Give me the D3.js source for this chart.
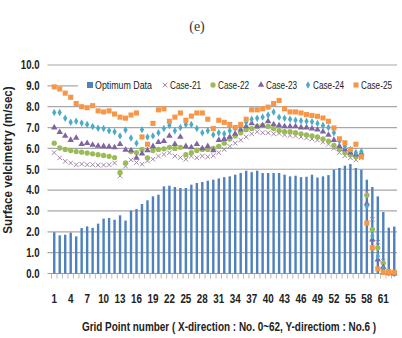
<!DOCTYPE html>
<html>
<head>
<meta charset="utf-8">
<script src="https://cdn.jsdelivr.net/npm/d3@7"></script>
<style>
  body { margin: 0; background: #fff; }
  svg text { font-family: "Liberation Sans", Arial, sans-serif; }
</style>
</head>
<body>
<div id="chart"></div>
<script>
var svgWidth = 402;
var svgHeight = 338;

// grid points 1..63
var gridPoints = d3.range(1, 64);
var xTickLabels = d3.range(1, 62, 3);
var yTicks = d3.range(0, 11, 1);

var optimumData = [1.98, 1.83, 1.86, 1.96, 1.78, 2.18, 2.26, 2.19, 2.39, 2.63, 2.66, 2.58, 2.79, 2.54, 3.02,
  3.09, 3.33, 3.51, 3.70, 3.78, 4.18, 4.21, 4.15, 4.10, 4.10, 4.26, 4.34, 4.39, 4.45, 4.50,
  4.56, 4.62, 4.66, 4.74, 4.82, 4.93, 4.86, 4.93, 4.82, 4.82, 4.82, 4.82, 4.74, 4.66, 4.69,
  4.62, 4.64, 4.74, 4.60, 4.66, 4.72, 4.98, 5.06, 5.17, 5.25, 5.06, 4.98, 4.50, 4.15, 3.70,
  2.95, 2.20, 2.25];

var case21 = [5.80, 5.55, 5.38, 5.30, 5.22, 5.25, 5.22, 5.22, 5.20, 5.20, 5.22, 5.30, 4.68, 5.15, 5.45,
  5.32, 5.24, 5.40, 5.48, 5.63, 5.71, 5.79, 5.63, 5.56, 5.48, 5.63, 5.55, 5.63, 5.60, 5.65,
  5.80, 5.95, 6.10, 6.25, 6.40, 6.55, 6.70, 6.80, 6.75, 6.75, 6.70, 6.72, 6.65, 6.62, 6.60,
  6.55, 6.50, 6.45, 6.40, 6.30, 6.20, 6.00, 5.80, 5.65, 5.55, 5.45, 5.55, 3.90, 2.60, 1.50,
  0.60, 0.10, 0.00];

var case22 = [6.25, 6.02, 5.95, 5.90, 5.85, 5.82, 5.78, 5.74, 5.70, 5.66, 5.62, 5.56, 4.85, 5.30, 5.85,
  5.80, 5.95, 5.55, 5.90, 5.95, 5.98, 6.05, 6.00, 6.05, 5.70, 5.80, 5.90, 5.95, 5.95, 6.00,
  6.10, 6.25, 6.45, 6.60, 6.75, 6.90, 6.95, 7.05, 7.10, 7.05, 6.95, 6.85, 6.80, 6.80, 6.75,
  6.70, 6.65, 6.60, 6.55, 6.45, 6.35, 6.15, 5.95, 5.80, 5.70, 5.60, 5.70, 3.75, 2.12, 1.23,
  0.50, 0.10, 0.00];

var case23 = [7.00, 6.78, 6.60, 6.40, 6.50, 6.20, 6.25, 6.17, 6.12, 6.10, 6.08, 6.05, 6.20, 5.93, 5.90,
  5.55, 5.75, 5.90, 6.10, 6.30, 6.35, 6.60, 6.20, 6.55, 6.10, 6.05, 6.20, 6.00, 6.10, 5.90,
  6.40, 6.45, 6.55, 6.70, 6.90, 7.05, 7.20, 7.05, 7.10, 7.30, 7.15, 7.10, 7.05, 7.05, 7.05,
  7.00, 7.00, 6.95, 6.90, 6.80, 6.65, 6.40, 6.10, 5.95, 5.80, 5.70, 5.75, 3.35, 1.63, 0.67,
  0.30, 0.00, 0.00];

var case24 = [7.72, 7.72, 7.45, 7.25, 7.30, 7.22, 7.15, 7.05, 6.97, 6.95, 6.85, 6.80, 6.60, 6.88, 6.50,
  6.25, 6.90, 6.55, 6.60, 6.75, 6.95, 7.10, 6.85, 7.00, 7.15, 7.15, 6.95, 6.75, 6.85, 6.65,
  6.75, 6.70, 6.85, 6.95, 7.10, 7.25, 7.40, 7.45, 7.50, 7.60, 7.75, 7.50, 7.45, 7.40, 7.35,
  7.33, 7.30, 7.28, 7.20, 7.10, 7.00, 6.75, 6.35, 6.10, 5.95, 5.80, 5.85, 3.22, 1.80, 0.83,
  0.20, 0.02, 0.00];

var case25 = [8.95, 8.85, 8.65, 8.45, 8.15, 8.00, 7.95, 8.05, 7.80, 7.75, 7.80, 7.65, 7.50, 7.45, 7.60,
  7.70, 6.55, 6.20, 7.20, 7.85, 7.90, 7.30, 7.50, 7.70, 7.35, 7.55, 7.70, 7.70, 7.40, 6.95,
  7.35, 7.25, 7.15, 7.00, 7.15, 7.40, 7.85, 7.85, 7.90, 7.98, 8.15, 8.30, 7.90, 7.75, 7.75,
  7.70, 7.62, 7.58, 7.54, 7.46, 7.30, 6.98, 6.46, 6.27, 5.95, 6.20, 5.60, 2.42, 1.23, 0.22,
  0.05, 0.05, 0.06];

var seriesNames = ["Case-21", "Case-22", "Case-23", "Case-24", "Case-25"];
var seriesValues = [case21, case22, case23, case24, case25];
var seriesColors = ["#a585a8", "#9bbb59", "#8064a2", "#4bacc6", "#f79646"];
var seriesSymbols = ["x", "circle", "triangle", "diamond", "square"];

var margin = { top: 65, left: 51.5, right: 5, bottom: 64 };
var plotW = svgWidth - margin.left - margin.right;
var plotH = svgHeight - margin.top - margin.bottom - 0.5;

// squeeze text horizontally, the original uses a narrow font
function condense(sel, f) {
  sel.each(function() {
    var w = this.getComputedTextLength();
    d3.select(this)
      .attr("textLength", w * f)
      .attr("lengthAdjust", "spacingAndGlyphs");
  });
}

var svg = d3.select("#chart")
  .append("svg")
  .attr("width", svgWidth)
  .attr("height", svgHeight);

svg.append("text")
  .attr("x", 197)
  .attr("y", 31)
  .attr("text-anchor", "middle")
  .style("font-family", "'Liberation Serif', serif")
  .style("font-size", "14px")
  .attr("fill", "#333")
  .text("(e)");

var chartGroup = svg.append("g")
  .attr("transform", `translate(${margin.left}, ${margin.top})`);

var xScale = d3.scaleBand()
  .domain(gridPoints)
  .range([0, plotW])
  .padding(0);

var yScale = d3.scaleLinear()
  .domain([0, 10])
  .range([plotH, 0]);

// horizontal gridlines
chartGroup.append("g")
  .selectAll("line")
  .data(yTicks)
  .enter()
  .append("line")
  .attr("x1", -4)
  .attr("x2", plotW)
  .attr("y1", d => yScale(d))
  .attr("y2", d => yScale(d))
  .attr("stroke", d => d === 0 ? "#999" : "#a8a8a8")
  .attr("stroke-width", 1.2);

// y axis labels
var leftAxis = d3.axisLeft(yScale)
  .tickValues(yTicks)
  .tickFormat(d3.format(".1f"))
  .tickSize(0)
  .tickPadding(12);

chartGroup.append("g")
  .call(leftAxis)
  .call(g => g.select(".domain").remove())
  .selectAll("text")
  .style("font-size", "12px")
  .style("font-weight", "bold")
  .attr("fill", "#222")
  .call(condense, 0.8);

// x axis: small ticks at each grid point boundary, labels every 3rd point
chartGroup.append("g")
  .selectAll("line")
  .data(gridPoints)
  .enter()
  .append("line")
  .attr("x1", d => xScale(d))
  .attr("x2", d => xScale(d))
  .attr("y1", plotH)
  .attr("y2", plotH + 5)
  .attr("stroke", "#bbb");

var bottomAxis = d3.axisBottom(xScale)
  .tickValues(xTickLabels)
  .tickSize(0)
  .tickPadding(21);

chartGroup.append("g")
  .attr("transform", `translate(0, ${plotH})`)
  .call(bottomAxis)
  .call(g => g.select(".domain").remove())
  .selectAll("text")
  .style("font-size", "12px")
  .style("font-weight", "bold")
  .attr("fill", "#222")
  .call(condense, 0.82);

// bars
var barW = 2.4;
chartGroup.append("g")
  .selectAll("rect")
  .data(optimumData)
  .enter()
  .append("rect")
  .attr("x", (d, i) => xScale(gridPoints[i]) + xScale.bandwidth() / 2 - barW / 2)
  .attr("y", d => yScale(d))
  .attr("width", barW)
  .attr("height", d => plotH - yScale(d))
  .attr("fill", "#4f81bd");

function drawMarker(sel, symbol, color) {
  if (symbol === "x") {
    sel.append("path")
      .attr("d", "M-2.3,-2.3L2.3,2.3M-2.3,2.3L2.3,-2.3")
      .attr("stroke", color)
      .attr("stroke-width", 1)
      .attr("fill", "none");
  } else {
    var t = { circle: d3.symbolCircle, triangle: d3.symbolTriangle, diamond: d3.symbolDiamond, square: d3.symbolSquare }[symbol];
    var s = { circle: 22, triangle: 18, diamond: 16, square: 26 }[symbol];
    sel.append("path")
      .attr("d", d3.symbol().type(t).size(s))
      .attr("fill", color);
  }
}

// scatter series
seriesValues.forEach(function(vals, k) {
  var pts = chartGroup.append("g")
    .selectAll("g")
    .data(vals)
    .enter()
    .append("g")
    .attr("transform", (d, i) => `translate(${xScale(gridPoints[i]) + xScale.bandwidth() / 2}, ${yScale(d)})`);
  drawMarker(pts, seriesSymbols[k], seriesColors[k]);
});

// legend
var legend = svg.append("g");
legend.append("rect")
  .attr("x", 78)
  .attr("y", 77)
  .attr("width", 320)
  .attr("height", 17)
  .attr("fill", "#fff");

var legendItems = [
  { name: "Optimum Data", symbol: "bar", color: "#4f81bd", x: 90, w: 57 },
  { name: seriesNames[0], symbol: seriesSymbols[0], color: seriesColors[0], x: 165, w: 31 },
  { name: seriesNames[1], symbol: seriesSymbols[1], color: seriesColors[1], x: 213, w: 31 },
  { name: seriesNames[2], symbol: seriesSymbols[2], color: seriesColors[2], x: 261, w: 31 },
  { name: seriesNames[3], symbol: seriesSymbols[3], color: seriesColors[3], x: 308, w: 31 },
  { name: seriesNames[4], symbol: seriesSymbols[4], color: seriesColors[4], x: 356, w: 31 }
];

legendItems.forEach(function(it) {
  var g = legend.append("g").attr("transform", `translate(${it.x}, 85)`);
  if (it.symbol === "bar") {
    g.append("rect").attr("x", -3).attr("y", -3).attr("width", 6).attr("height", 6).attr("fill", it.color);
  } else {
    drawMarker(g, it.symbol, it.color);
  }
  g.append("text")
    .attr("x", 5)
    .attr("y", 4)
    .attr("textLength", it.w)
    .attr("lengthAdjust", "spacingAndGlyphs")
    .style("font-size", "11px")
    .attr("fill", "#222")
    .text(it.name);
});

// axis titles, squeezed with a scale so their boxes stay true
svg.append("text")
  .attr("transform", "translate(12, 160) rotate(-90) scale(0.97, 1)")
  .attr("text-anchor", "middle")
  .style("font-size", "12px")
  .style("font-weight", "bold")
  .attr("fill", "#222")
  .text("Surface velcimetry (m/sec)");

svg.append("text")
  .attr("transform", "translate(229, 331) scale(0.83, 1)")
  .attr("text-anchor", "middle")
  .style("font-size", "12px")
  .style("font-weight", "bold")
  .attr("fill", "#222")
  .text("Grid Point number ( X-direction : No. 0~62, Y-directiom : No.6 )");
</script>
</body>
</html>
